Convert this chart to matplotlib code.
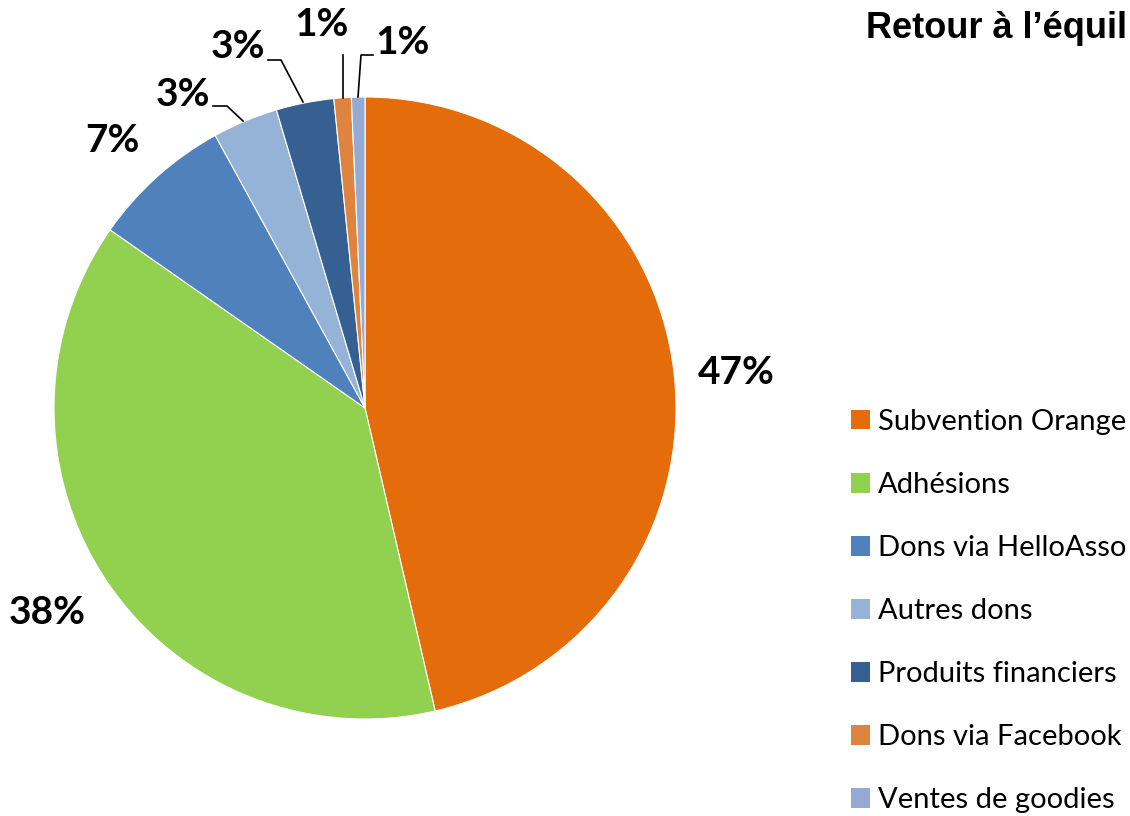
import matplotlib
matplotlib.use("Agg")
import matplotlib.pyplot as plt
from matplotlib.patches import Patch

# data
categories = ["Subvention Orange", "Adhésions", "Dons via HelloAsso", "Autres dons",
              "Produits financiers", "Dons via Facebook", "Ventes de goodies"]
values = [46.4, 38.35, 7.3, 3.4, 3.0, 0.9, 0.7]
pct_labels = ["47%", "38%", "7%", "3%", "3%", "1%", "1%"]
colors = ["#E46C0A", "#92D050", "#4F81BD", "#95B3D7", "#376092", "#DE843F", "#95A9D5"]
title = "Retour à l’équil"

W, H = 1130, 816
fig = plt.figure(figsize=(W / 100, H / 100), dpi=100)

# pie centre and radius in pixels
cx, cy, r = 365, 408, 311
ax = fig.add_axes([(cx - r) / W, (H - cy - r) / H, 2 * r / W, 2 * r / H])

ax.pie(values, colors=colors, startangle=90, counterclock=False, radius=1,
       wedgeprops=dict(edgecolor="white", linewidth=0.8))
ax.set_xlim(-1, 1)
ax.set_ylim(-1, 1)
ax.set_aspect("equal")
ax.axis("off")


def px(x, y):
    return (x - cx) / r, (cy - y) / r


lab_font = dict(family=["Lato", "DejaVu Sans"], fontsize=28, fontweight="bold",
                ha="center", va="center", color="black")

# label positions (pixels in the reference image)
label_pos = [(736, 372), (47, 612), (112, 140), (183, 95), (238, 47), (322, 24), (403, 43)]
for lab, (x, y) in zip(pct_labels, label_pos):
    ax.text(*px(x, y), lab, clip_on=False, **lab_font)

# leader lines for the small slices
leaders = [
    [(213, 106), (227, 106), (243, 121)],
    [(268, 60), (281, 60), (303, 102)],
    [(343, 55), (343, 98)],
    [(373, 55), (361, 55), (358, 97)],
]
for pts in leaders:
    xs, ys = zip(*[px(x, y) for x, y in pts])
    ax.plot(xs, ys, color="black", lw=1.2, clip_on=False)

fig.text(866 / W, 1 - 28 / H, title, family=["Liberation Sans", "DejaVu Sans"],
         fontsize=26, fontweight="bold", ha="left", va="center")

handles = [Patch(facecolor=c, edgecolor="none") for c in colors]
fig.legend(handles, categories, loc="upper left", bbox_to_anchor=(851 / W, 1 - 409 / H),
           frameon=False, prop=dict(family=["Lato", "DejaVu Sans"], size=21),
           handlelength=0.65, handleheight=0.65, handletextpad=0.27, labelspacing=1.27,
           borderaxespad=0, borderpad=0)

fig.savefig("out.png", dpi=100)
